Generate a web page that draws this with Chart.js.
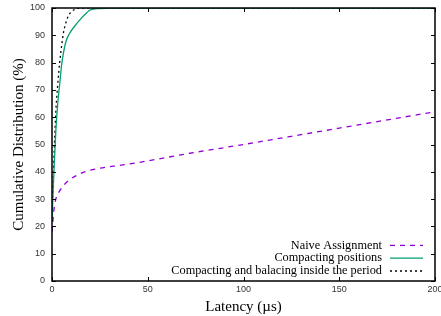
<!DOCTYPE html>
<html lang="en">
<head>
  <meta charset="UTF-8" />
  <title>Latency CDF</title>
  <script src="https://cdn.jsdelivr.net/npm/chart.js"></script>
  <style>
    html,body{margin:0;padding:0;background:#fff}
    .wrap{width:441px;height:316px}
  </style>
</head>
<body>
<div class="wrap"><canvas id="cdf" width="441" height="316"></canvas></div>
<script>
// series (latency in µs, cumulative %)
const naiveX = [0, 1, 2, 4, 6, 9, 13, 18, 25, 37, 50, 72, 100, 125, 150, 175, 200];
const naiveY = [18, 26, 30, 33, 35, 37, 38.7, 40.2, 41.3, 42.5, 44, 46.8, 50, 53, 56, 59, 62];
const compactX = [0, 1, 2, 3, 4, 5, 7, 9, 12, 15, 18, 20, 25, 30, 50, 200];
const compactY = [22, 40, 55, 65, 72, 79, 87, 90.5, 93.5, 96, 98.2, 99.3, 99.8, 100, 100, 100];
const balanceX = [0, 1, 2, 3, 4, 5, 6, 7, 8.5, 10, 13, 16, 20, 200];
const balanceY = [25, 45, 62, 72, 80, 86, 91, 94, 97, 98.5, 99.8, 100, 100, 100];

const labels = ['Naive Assignment', 'Compacting positions', 'Compacting and balacing inside the period'];
const colors = ['#9400d3', '#009e73', '#000000'];
const dashes = [[5, 5], [], [2, 3]];
const xTicks = [0, 50, 100, 150, 200];

const pts = (xs, ys) => xs.map((x, i) => ({x, y: ys[i]}));
const series = [pts(naiveX, naiveY), pts(compactX, compactY), pts(balanceX, balanceY)];

const tickFont = {family: '"Liberation Sans", Arial, sans-serif', size: 9};
const titleFont = {family: '"Liberation Serif", "Times New Roman", serif', size: 15};

// gnuplot-ish frame: border, inward ticks on all four sides, legend at bottom right
const frame = {
  id: 'frame',
  afterDatasetsDraw(chart) {
    const {ctx, chartArea: a, scales: {x, y}} = chart;
    ctx.save();
    ctx.strokeStyle = '#000';
    ctx.lineWidth = 1;
    ctx.setLineDash([]);
    ctx.beginPath();
    x.ticks.forEach(t => {
      const px = Math.round(x.getPixelForValue(t.value)) + 0.5;
      ctx.moveTo(px, a.bottom); ctx.lineTo(px, a.bottom - 4);
      ctx.moveTo(px, a.top); ctx.lineTo(px, a.top + 4);
    });
    y.ticks.forEach(t => {
      const py = Math.round(y.getPixelForValue(t.value)) + 0.5;
      ctx.moveTo(a.left, py); ctx.lineTo(a.left + 4, py);
      ctx.moveTo(a.right, py); ctx.lineTo(a.right - 4, py);
    });
    ctx.stroke();
    ctx.lineWidth = 1.5;
    ctx.strokeRect(a.left, a.top, a.right - a.left, a.bottom - a.top);

    ctx.font = '12.3px "Liberation Serif", "Times New Roman", serif';
    ctx.textAlign = 'right';
    ctx.textBaseline = 'middle';
    ctx.fillStyle = '#000';
    const rowH = 12.8;
    const lineEnd = a.right - 12, lineStart = lineEnd - 33;
    labels.forEach((lab, i) => {
      const ly = a.bottom - 10 - (labels.length - 1 - i) * rowH;
      ctx.fillText(lab, lineStart - 8, ly);
      ctx.strokeStyle = colors[i];
      ctx.lineWidth = 1.3;
      ctx.setLineDash(dashes[i]);
      ctx.beginPath();
      ctx.moveTo(lineStart, ly); ctx.lineTo(lineEnd, ly);
      ctx.stroke();
    });
    ctx.restore();
  }
};

new Chart(document.getElementById('cdf'), {
  type: 'scatter',
  data: {
    datasets: series.map((d, i) => ({
      label: labels[i],
      data: d,
      showLine: true,
      borderColor: colors[i],
      backgroundColor: colors[i],
      borderWidth: 1.3,
      borderDash: dashes[i],
      pointRadius: 0,
      cubicInterpolationMode: 'monotone'
    }))
  },
  options: {
    responsive: false,
    animation: false,
    layout: {padding: {top: 8, right: 6, left: 0, bottom: 0}},
    plugins: {legend: {display: false}, tooltip: {enabled: false}},
    scales: {
      x: {
        type: 'linear', min: 0, max: 200,
        afterBuildTicks: s => { s.ticks = xTicks.map(v => ({value: v})); },
        afterFit: s => { s.height = 35; s.paddingLeft = 0; s.paddingRight = 0; },
        grid: {display: false, drawTicks: false},
        border: {display: false},
        ticks: {color: '#333', padding: 3, font: tickFont, maxRotation: 0},
        title: {display: true, text: 'Latency (µs)', color: '#000', padding: {top: 1, bottom: 0}, font: titleFont}
      },
      y: {
        min: 0, max: 100,
        afterFit: s => { s.width = 52; s.paddingTop = 0; s.paddingBottom = 0; },
        grid: {display: false, drawTicks: false},
        border: {display: false},
        ticks: {stepSize: 10, color: '#333', padding: 7, font: tickFont},
        title: {display: true, text: 'Cumulative Distribution (%)', color: '#000', padding: {top: 10, bottom: 2}, font: titleFont}
      }
    }
  },
  plugins: [frame]
});
</script>
</body>
</html>
